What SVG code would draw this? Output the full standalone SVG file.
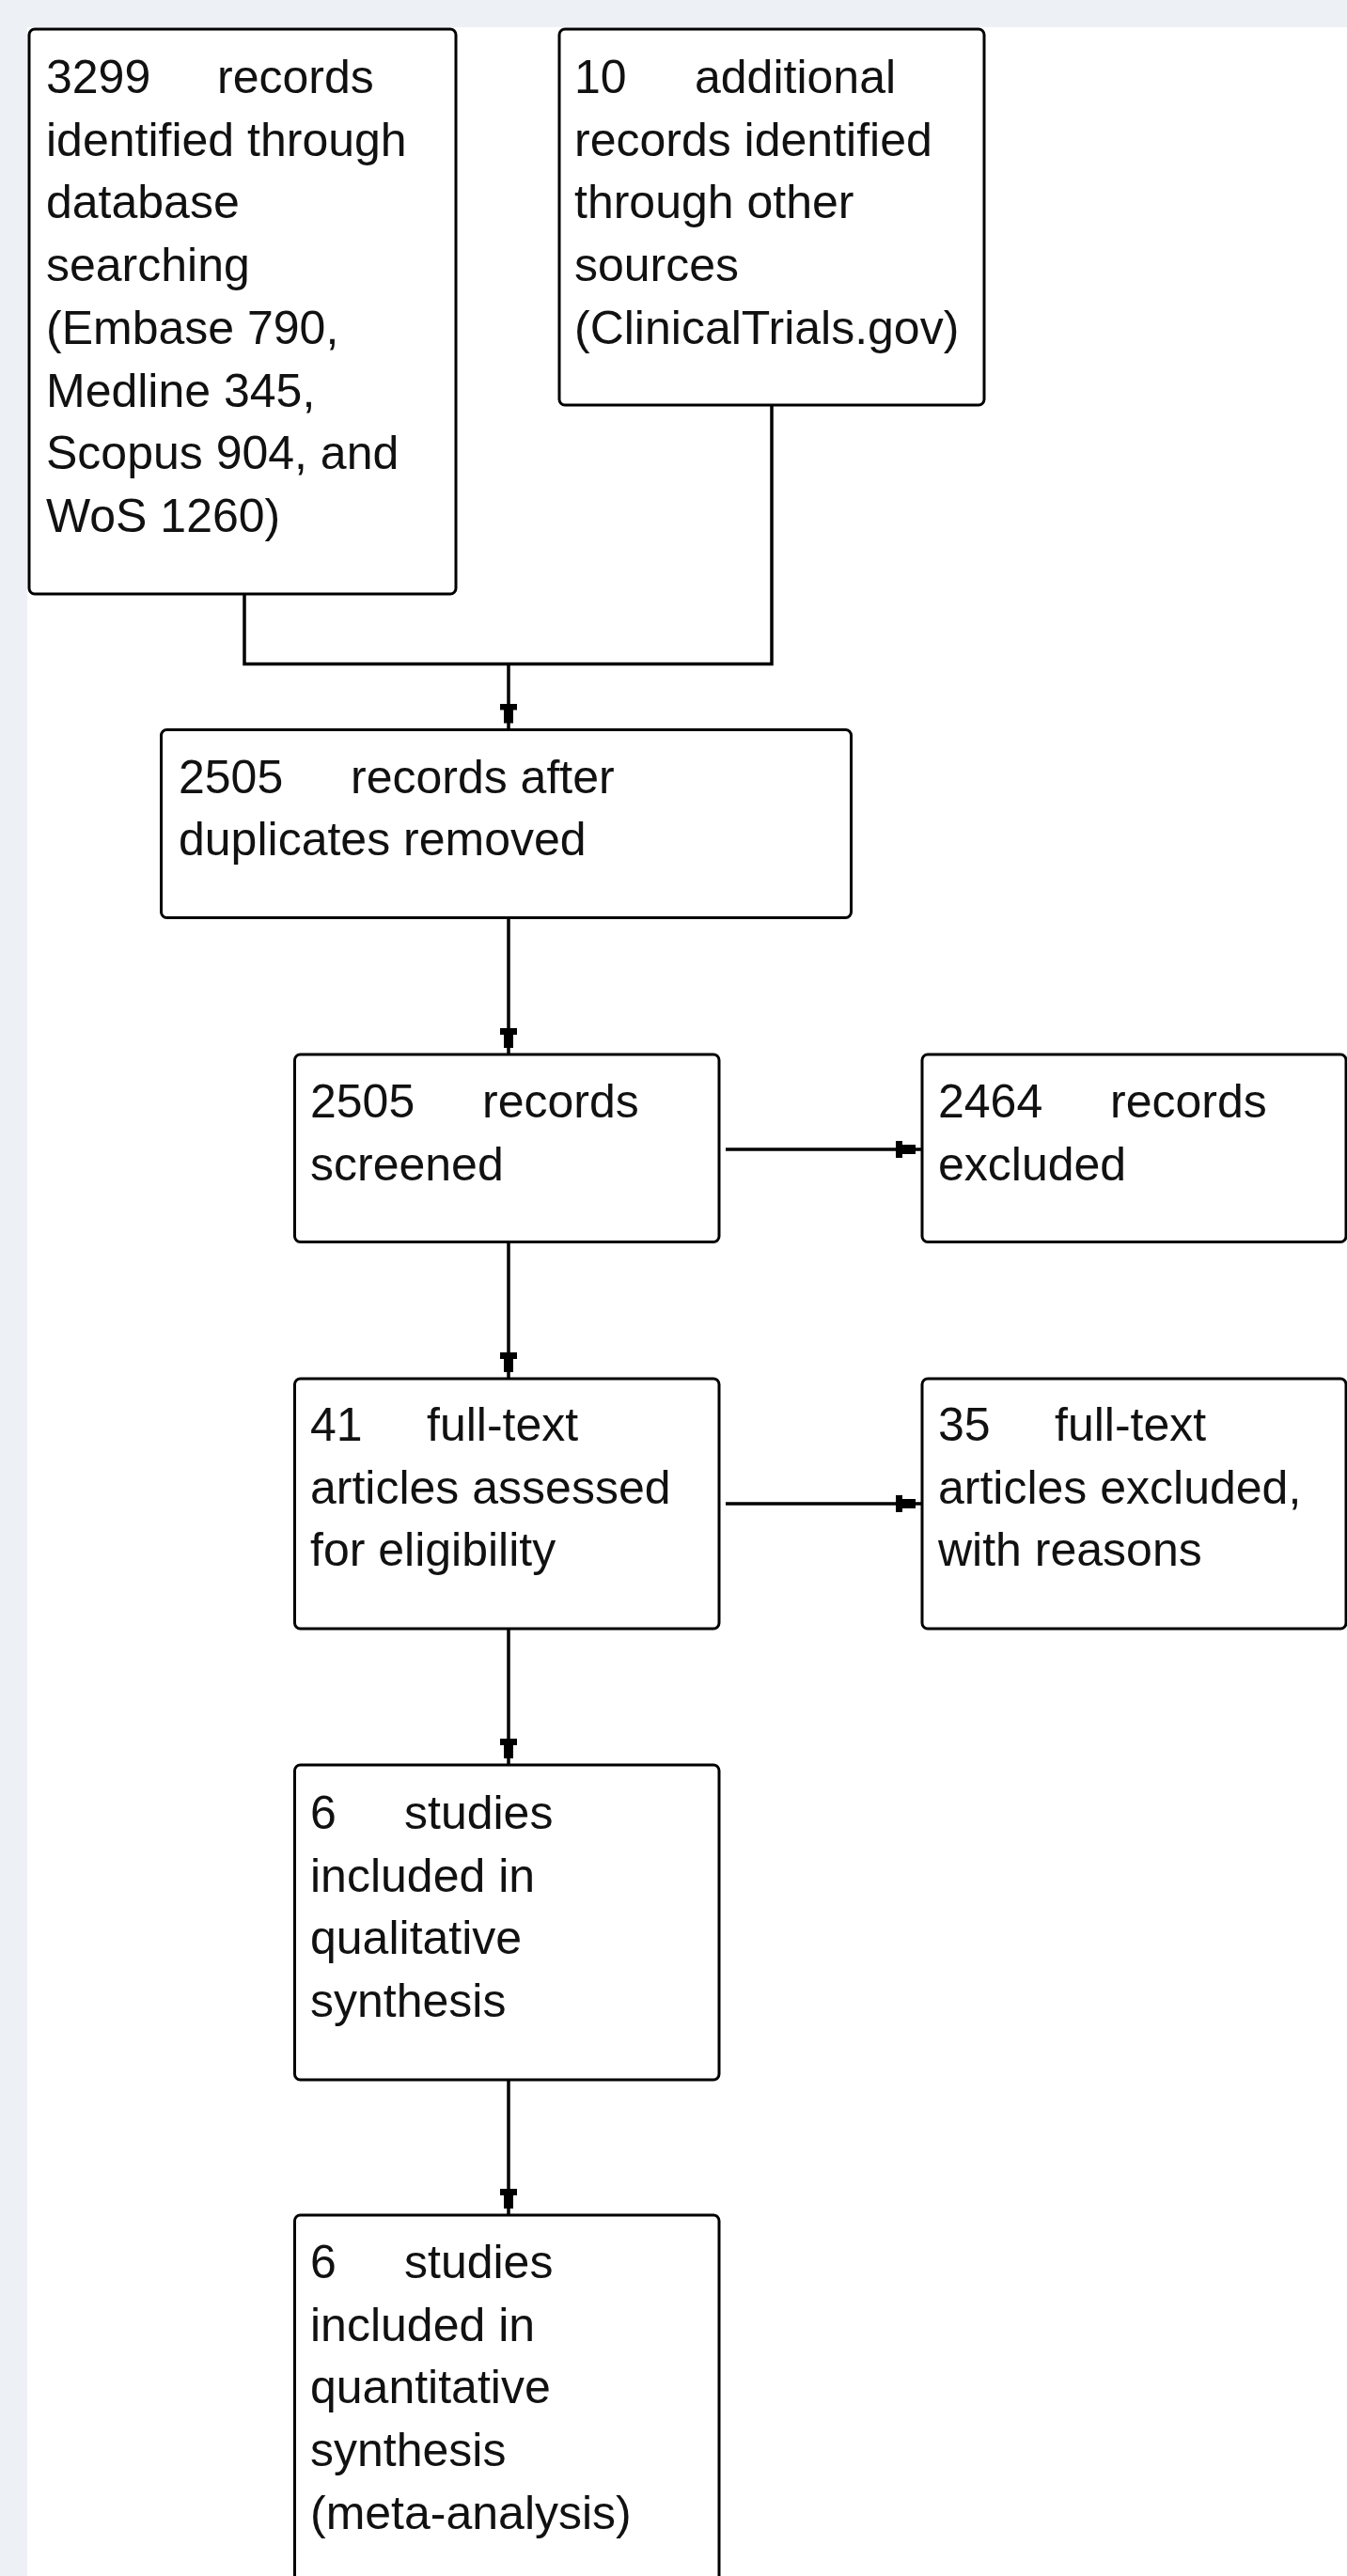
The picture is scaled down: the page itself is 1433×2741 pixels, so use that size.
<svg xmlns="http://www.w3.org/2000/svg" width="1433" height="2741" viewBox="0 0 1433 2741">
<style>
.box{fill:#ffffff;stroke:#000000;stroke-width:3}
.lbl{font-family:"Liberation Sans",Arial,sans-serif;font-size:50px;fill:#111111}
.con{fill:none;stroke:#000000;stroke-width:3.5}
</style>
<defs>
<marker id="ah" markerUnits="userSpaceOnUse" viewBox="0 0 30 20" refX="28" refY="10" markerWidth="30" markerHeight="20" orient="auto">
<path d="M0 1 H7 V5 H21 V15 H7 V19 H0 Z" fill="#000000"/>
</marker>
</defs>
<rect x="0" y="0" width="1433" height="2741" fill="#edf0f5"/>
<rect x="29" y="29" width="1404" height="2712" fill="#ffffff"/>
<g id="connectors">
<path class="con" d="M260 632 V706.5 H821 V431"/>
<path class="con" d="M541 706.5 V776.5" marker-end="url(#ah)"/>
<path class="con" d="M541 976.5 V1122" marker-end="url(#ah)"/>
<path class="con" d="M772 1223 H981" marker-end="url(#ah)"/>
<path class="con" d="M541 1321.5 V1467" marker-end="url(#ah)"/>
<path class="con" d="M772 1600 H981" marker-end="url(#ah)"/>
<path class="con" d="M541 1733 V1878" marker-end="url(#ah)"/>
<path class="con" d="M541 2213 V2357" marker-end="url(#ah)"/>
</g>
<g id="n1">
<rect class="box" x="31" y="31" width="454" height="601" rx="6"/>
<text class="lbl"><tspan x="49" y="99">3299</tspan><tspan x="231" y="99">records</tspan><tspan x="49" y="165.7">identified through</tspan><tspan x="49" y="232.4">database</tspan><tspan x="49" y="299.1">searching</tspan><tspan x="49" y="365.8">(Embase 790,</tspan><tspan x="49" y="432.5">Medline 345,</tspan><tspan x="49" y="499.2">Scopus 904, and</tspan><tspan x="49" y="565.9">WoS 1260)</tspan></text>
</g>
<g id="n2">
<rect class="box" x="595" y="31" width="452" height="400" rx="6"/>
<text class="lbl"><tspan x="611" y="99">10</tspan><tspan x="739" y="99">additional</tspan><tspan x="611" y="165.7">records identified</tspan><tspan x="611" y="232.4">through other</tspan><tspan x="611" y="299.1">sources</tspan><tspan x="611" y="365.8">(ClinicalTrials.gov)</tspan></text>
</g>
<g id="n3">
<rect class="box" x="171.5" y="776.5" width="734" height="200" rx="6"/>
<text class="lbl"><tspan x="190" y="843.5">2505</tspan><tspan x="373" y="843.5">records after</tspan><tspan x="190" y="910.2">duplicates removed</tspan></text>
</g>
<g id="n4">
<rect class="box" x="313.5" y="1122" width="451.5" height="199.5" rx="6"/>
<text class="lbl"><tspan x="330" y="1189">2505</tspan><tspan x="513" y="1189">records</tspan><tspan x="330" y="1255.7">screened</tspan></text>
</g>
<g id="n5">
<rect class="box" x="981" y="1122" width="451" height="199.5" rx="6"/>
<text class="lbl"><tspan x="998" y="1189">2464</tspan><tspan x="1181" y="1189">records</tspan><tspan x="998" y="1255.7">excluded</tspan></text>
</g>
<g id="n6">
<rect class="box" x="313.5" y="1467" width="451.5" height="266" rx="6"/>
<text class="lbl"><tspan x="330" y="1533">41</tspan><tspan x="454" y="1533">full-text</tspan><tspan x="330" y="1599.7">articles assessed</tspan><tspan x="330" y="1666.4">for eligibility</tspan></text>
</g>
<g id="n7">
<rect class="box" x="981" y="1467" width="451" height="266" rx="6"/>
<text class="lbl"><tspan x="998" y="1533">35</tspan><tspan x="1122" y="1533">full-text</tspan><tspan x="998" y="1599.7">articles excluded,</tspan><tspan x="998" y="1666.4">with reasons</tspan></text>
</g>
<g id="n8">
<rect class="box" x="313.5" y="1878" width="451.5" height="335" rx="6"/>
<text class="lbl"><tspan x="330" y="1946">6</tspan><tspan x="430" y="1946">studies</tspan><tspan x="330" y="2012.7">included in</tspan><tspan x="330" y="2079.4">qualitative</tspan><tspan x="330" y="2146.1">synthesis</tspan></text>
</g>
<g id="n9">
<rect class="box" x="313.5" y="2357" width="451.5" height="500" rx="6"/>
<text class="lbl"><tspan x="330" y="2424">6</tspan><tspan x="430" y="2424">studies</tspan><tspan x="330" y="2490.7">included in</tspan><tspan x="330" y="2557.4">quantitative</tspan><tspan x="330" y="2624.1">synthesis</tspan><tspan x="330" y="2690.8">(meta-analysis)</tspan></text>
</g>
</svg>
